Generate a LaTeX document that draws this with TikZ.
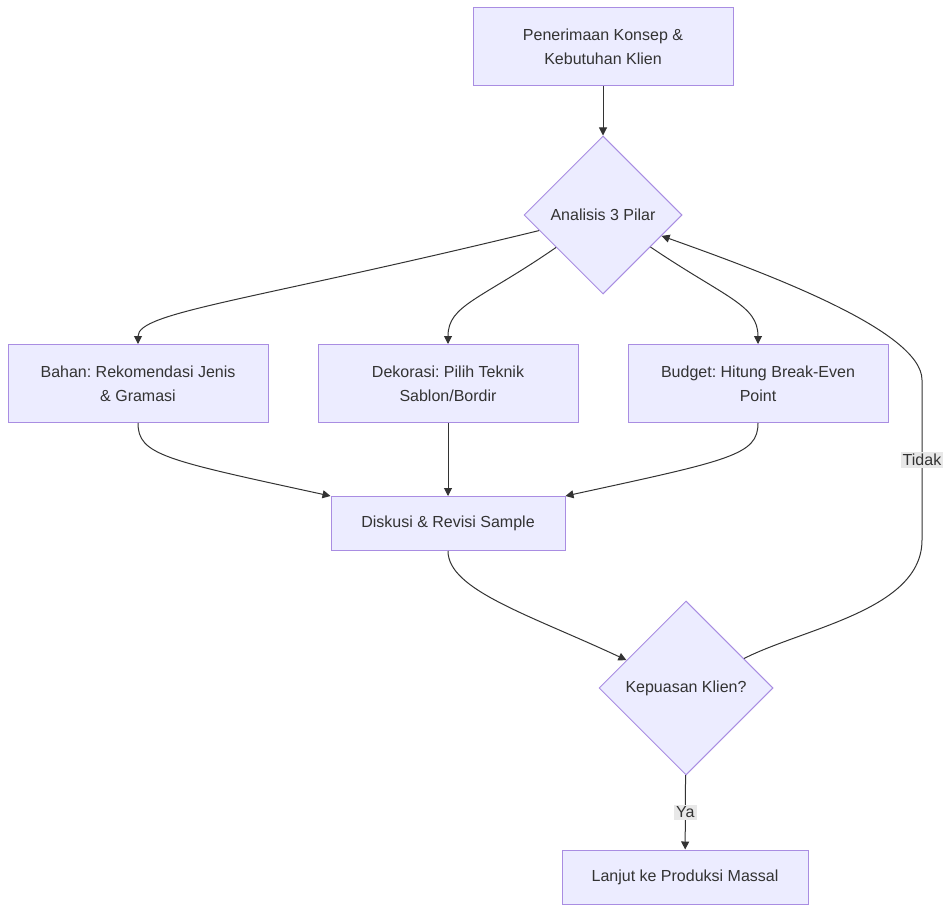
\documentclass[tikz,border=0pt]{standalone}
\usepackage{fontspec}
\setmainfont{Liberation Sans}
\frenchspacing
\usetikzlibrary{shapes.geometric,arrows.meta}
\definecolor{boxfill}{HTML}{ECECFF}
\definecolor{boxline}{HTML}{9370DB}
\definecolor{edgeline}{HTML}{333333}
\definecolor{lblfill}{HTML}{E8E8E8}

\begin{document}
\begin{tikzpicture}[x=1pt,y=-1pt,
  every node/.append style={font=\fontsize{16}{24}\selectfont, text=edgeline},
  box/.style={rectangle,draw=boxline!80,fill=boxfill,line width=1pt,align=center,
    minimum width=260pt,minimum height=78pt,inner sep=0pt},
  dec/.style={diamond,aspect=1,draw=boxline!80,fill=boxfill,line width=1pt,inner sep=0pt},
  lbl/.style={fill=lblfill,inner sep=2pt},
  flow/.style={draw=edgeline,line width=1pt,-{Triangle[length=8pt,width=8pt]}}]
\useasboundingbox (0,0) rectangle (950,912);

\node[box] (konsep) at (603,47) {Penerimaan Konsep \&\\Kebutuhan Klien};
\node[dec,minimum width=158pt,minimum height=158pt] (pilar) at (603,215) {Analisis 3 Pilar};
\node[box] (bahan) at (138,383.5) {Bahan: Rekomendasi Jenis\\\& Gramasi};
\node[box] (dekor) at (448,383.5) {Dekorasi: Pilih Teknik\\Sablon/Bordir};
\node[box] (budget) at (758,383.5) {Budget: Hitung Break-Even\\Point};
\node[box,minimum width=234pt,minimum height=54pt] (diskusi) at (448,523.5) {Diskusi \& Revisi Sample};
\node[dec,minimum width=174pt,minimum height=174pt] (puas) at (686,688) {Kepuasan Klien?};
\node[box,minimum width=246pt,minimum height=54pt] (lanjut) at (685,877) {Lanjut ke Produksi Massal};

\draw[flow] (konsep) -- (pilar);
\draw[flow] (pilar) .. controls (250,301) and (138,312) .. (bahan.north);
\draw[flow] (pilar) .. controls (480,300) and (448,305) .. (dekor.north);
\draw[flow] (pilar) .. controls (726,298) and (758,305) .. (budget.north);
\draw[flow] (bahan.south) .. controls (138,455) and (165,460) .. (diskusi.north west);
\draw[flow] (dekor) -- (diskusi);
\draw[flow] (budget.south) .. controls (758,455) and (731,460) .. (diskusi.north east);
\draw[flow] (diskusi.south) .. controls (448,590) and (530,615) .. (puas);
\draw[flow] (puas) .. controls (804,628) and (922,610) .. (922,540)
  -- node[lbl] {Tidak} (922,380) .. controls (922,330) and (760,271) .. (pilar);
\draw[flow] (puas) -- node[lbl] {Ya} (lanjut);
\end{tikzpicture}
\end{document}
